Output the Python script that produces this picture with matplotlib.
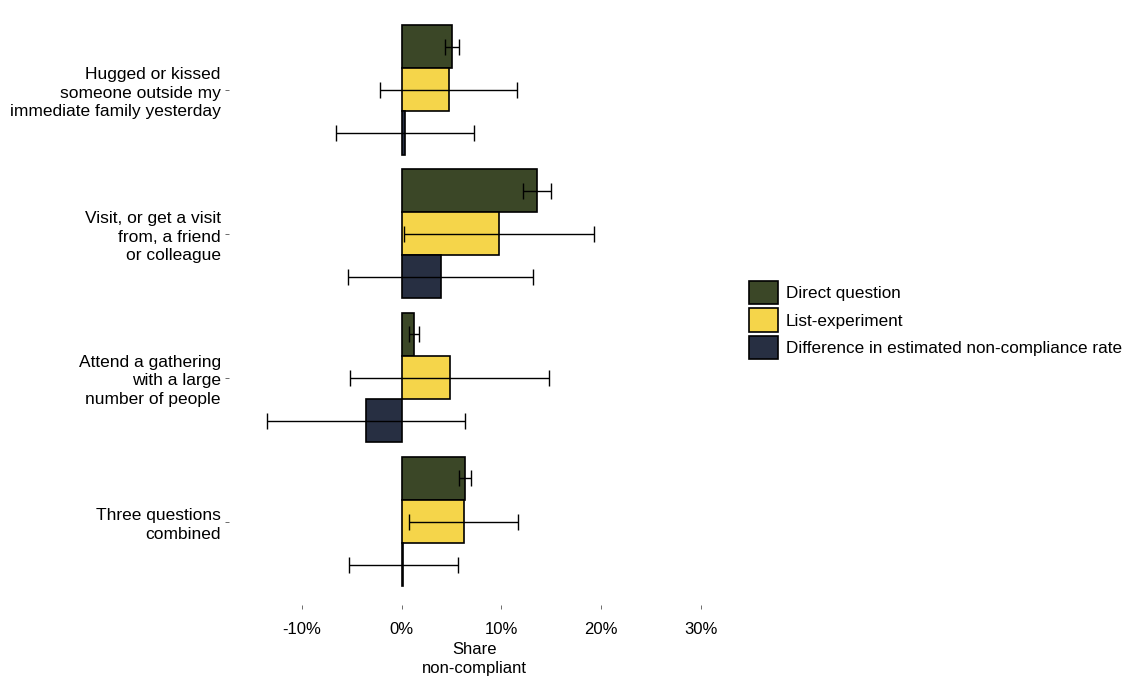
import matplotlib
matplotlib.use("Agg")
import matplotlib.pyplot as plt
import numpy as np

plt.rcParams['font.family'] = ['Liberation Sans', 'DejaVu Sans']

questions = ["Hugged or kissed\nsomeone outside my\nimmediate family yesterday",
             "Visit, or get a visit\nfrom, a friend\nor colleague",
             "Attend a gathering\nwith a large\nnumber of people",
             "Three questions\ncombined"]
series = ["Direct question", "List-experiment",
          "Difference in estimated non-compliance rate"]
colors = ["#3b4727", "#f5d54a", "#272f42"]

# share non-compliant (%) and half-width of the error bars
direct = [5.0, 13.6, 1.2, 6.3]
direct_err = [0.7, 1.4, 0.5, 0.6]
listexp = [4.7, 9.75, 4.8, 6.2]
listexp_err = [6.9, 9.5, 10.0, 5.5]
diff = [0.33, 3.9, -3.6, 0.15]
diff_err = [6.9, 9.25, 9.9, 5.45]

vals = [direct, listexp, diff]
errs = [direct_err, listexp_err, diff_err]

fig = plt.figure(figsize=(11.42, 6.86), dpi=100)
ax = fig.add_axes([229 / 1142, 1 - 605 / 686, (720 - 229) / 1142, (605 - 20) / 686])

y = np.arange(len(questions))
h = 0.3
for i in range(3):
    ax.barh(y + (i - 1) * h, vals[i], height=h, color=colors[i],
            edgecolor="black", linewidth=1.2, label=series[i])
for i in range(3):
    ax.errorbar(vals[i], y + (i - 1) * h, xerr=errs[i], fmt="none",
                ecolor="black", elinewidth=1, capsize=5.5, capthick=1)

ax.set_ylim(3.58, -0.485)
ax.set_xlim(-17.3, 31.9)
ax.set_yticks(y)
ax.set_yticklabels(questions, fontsize=12.5, linespacing=1.3)
ax.set_xticks([-10, 0, 10, 20, 30])
ax.set_xticklabels(["-10%", "0%", "10%", "20%", "30%"], fontsize=12)
ax.tick_params(axis="both", length=3, width=0.6, color="#555555")
ax.tick_params(axis="y", pad=3)
ax.tick_params(axis="x", pad=9)
for s in ax.spines.values():
    s.set_visible(False)
ax.set_xlabel("Share\nnon-compliant", fontsize=12, labelpad=4, linespacing=1.3)

fig.legend(loc="center left", bbox_to_anchor=(734 / 1142, 1 - 320 / 686),
           frameon=False, fontsize=12.3, handlelength=1.65, handleheight=1.75,
           labelspacing=0.22, handletextpad=0.5)

fig.savefig("out.png", dpi=100)
